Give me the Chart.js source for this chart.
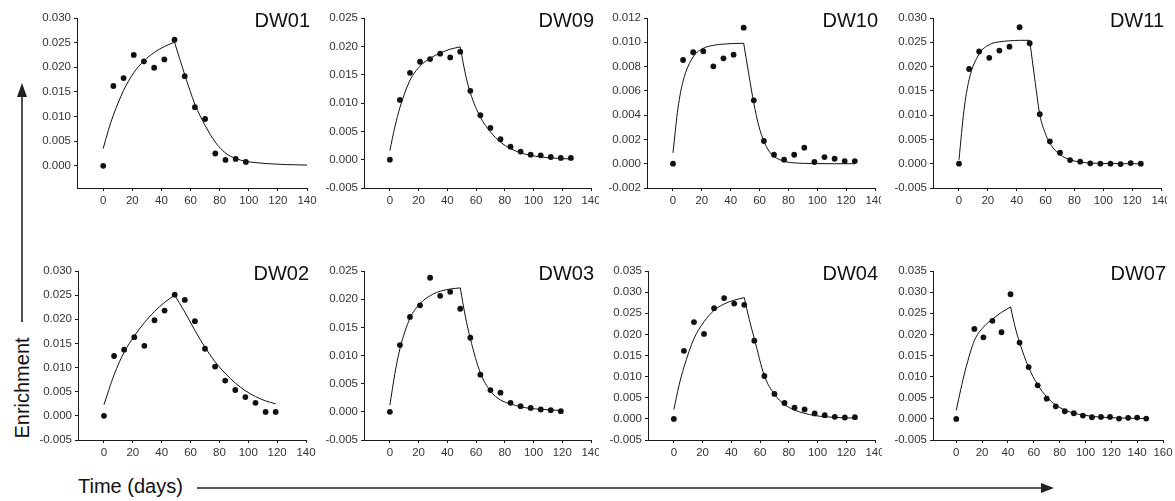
<!DOCTYPE html>
<html>
<head>
<meta charset="utf-8">
<script src="https://cdn.jsdelivr.net/npm/chart.js@4.4.1/dist/chart.umd.min.js"></script>
<style>
  body { margin: 0; background: #fff; }
  #page { position: relative; width: 1175px; height: 501px; overflow: hidden; background: #fff;
          font-family: "Liberation Sans", Arial, sans-serif; color: #111; }
  canvas { position: absolute; }
  .lbl { position: absolute; font-size: 20px; line-height: 20px; white-space: nowrap; }
  #ylab { left: 22px; top: 388px; transform: translate(-50%, -50%) rotate(-90deg); }
  #xlab { left: 78px; top: 476px; }
  svg { position: absolute; left: 0; top: 0; }
</style>
</head>
<body>
<div id="page">
  <svg width="1175" height="501">
    <line x1="22" y1="322" x2="22" y2="94" stroke="#222" stroke-width="1.6"/>
    <polygon points="22,83 17,97 27,97" fill="#222"/>
    <line x1="197" y1="488" x2="1043" y2="488" stroke="#222" stroke-width="1.6"/>
    <polygon points="1054,488 1041,483 1041,493" fill="#222"/>
  </svg>
  <div class="lbl" id="ylab">Enrichment</div>
  <div class="lbl" id="xlab">Time (days)</div>
</div>
<script>
// tick labels
const xTicks140 = [0, 20, 40, 60, 80, 100, 120, 140]
const xTicks160 = [0, 20, 40, 60, 80, 100, 120, 140, 160]
const yTicksDW01 = [0, 0.005, 0.010, 0.015, 0.020, 0.025, 0.030]
const yTicks030 = [-0.005, 0, 0.005, 0.010, 0.015, 0.020, 0.025, 0.030]
const yTicks025 = [-0.005, 0, 0.005, 0.010, 0.015, 0.020, 0.025]
const yTicks035 = [-0.005, 0, 0.005, 0.010, 0.015, 0.020, 0.025, 0.030, 0.035]
const yTicks012 = [-0.002, 0, 0.002, 0.004, 0.006, 0.008, 0.010, 0.012]

// sampling days
const days98 = [0, 7, 14, 21, 28, 35, 42, 49, 56, 63, 70, 77, 84, 91, 98]
const days119 = [0, 7, 14, 21, 28, 35, 42, 49, 56, 63, 70, 77, 84, 91, 98, 105, 112, 119]
const days126 = [0, 7, 14, 21, 28, 35, 42, 49, 56, 63, 70, 77, 84, 91, 98, 105, 112, 119, 126]
const daysDW07 = [0, 14, 21, 28, 35, 42, 49, 56, 63, 70, 77, 84, 91, 98, 105, 112, 119, 126, 133, 140, 147]
const riseDays = [0, 3.5, 7, 14, 21, 28, 35, 42, 49]
const riseDaysDW07 = [0, 3.5, 7, 14, 21, 28, 35, 42]

// DW01
const dw01Obs = [0.0000, 0.0162, 0.0178, 0.0225, 0.0212, 0.0199, 0.0216, 0.0256, 0.0182, 0.0119, 0.0095, 0.0025, 0.0012, 0.0014, 0.0008]
const dw01Rise = [0.0035, 0.0072, 0.0103, 0.0153, 0.0189, 0.0213, 0.0230, 0.0242, 0.0251]
const dw01FallDays = [49, 56, 63, 70, 77, 84, 91, 98, 105, 112, 119, 126, 133, 140]
const dw01Fall = [0.0251, 0.0185, 0.0125, 0.0082, 0.0048, 0.0026, 0.0015, 0.0009, 0.00065, 0.00045, 0.00035, 0.00025, 0.0002, 0.00015]

// DW09
const dw09Obs = [0.0000, 0.01055, 0.01533, 0.01728, 0.01775, 0.0187, 0.01804, 0.01905, 0.01215, 0.00784, 0.0056, 0.0036, 0.0023, 0.00142, 0.00088, 0.00077, 0.00047, 0.0003, 0.0003]
const dw09Rise = [0.0016, 0.0058, 0.0092, 0.0140, 0.0165, 0.0179, 0.0188, 0.0195, 0.0199]
const dw09FallDays = [49, 52.5, 56, 63, 70, 77, 84, 91, 98, 105, 112, 119, 126]
const dw09Fall = [0.0199, 0.0152, 0.0118, 0.0075, 0.0049, 0.0031, 0.00195, 0.0012, 0.00075, 0.00048, 0.0003, 0.0002, 0.00012]

// DW10
const dw10Obs = [0.0000, 0.00854, 0.00918, 0.00926, 0.00802, 0.00868, 0.00898, 0.0112, 0.00522, 0.00187, 0.00074, 0.00033, 0.00074, 0.00132, 0.00014, 0.00055, 0.00041, 0.00022, 0.00022]
const dw10Rise = [0.0009, 0.0046, 0.0068, 0.0088, 0.0095, 0.00975, 0.00985, 0.0099, 0.00992]
const dw10FallDays = [49, 52.5, 56, 59.5, 63, 66.5, 70, 77, 84, 91, 98, 112, 126]
const dw10Fall = [0.00992, 0.0074, 0.0050, 0.0031, 0.00185, 0.00105, 0.0006, 0.0002, 0.00007, 0.00003, 0.00001, 0, 0]

// DW11
const dw11Obs = [0.0000, 0.0195, 0.0231, 0.0218, 0.0233, 0.0241, 0.0281, 0.0248, 0.0102, 0.0046, 0.00226, 0.00075, 0.00041, 0.00007, 0, 0, -0.00007, 0.00014, 0]
const dw11Rise = [0.0008, 0.0111, 0.0173, 0.0226, 0.0245, 0.0251, 0.0253, 0.0254, 0.0254]
const dw11FallDays = [49, 52.5, 56, 59.5, 63, 66.5, 70, 77, 84, 91, 98, 112, 126]
const dw11Fall = [0.0254, 0.0175, 0.0101, 0.0065, 0.0042, 0.0028, 0.00185, 0.0008, 0.00035, 0.00015, 0.00006, 0.00001, 0]

// DW02
const dw02Obs = [0.0000, 0.0124, 0.0137, 0.0163, 0.0145, 0.0198, 0.0218, 0.0251, 0.0240, 0.0196, 0.0139, 0.0102, 0.0073, 0.00535, 0.0039, 0.0027, 0.00082, 0.00082]
const dw02Rise = [0.0023, 0.0055, 0.0085, 0.0132, 0.0165, 0.0193, 0.0216, 0.0235, 0.0250]
const dw02FallDays = [49, 56, 63, 70, 77, 84, 91, 98, 105, 112, 119]
const dw02Fall = [0.0250, 0.0215, 0.0177, 0.0142, 0.0112, 0.0088, 0.0068, 0.0052, 0.0040, 0.0031, 0.0025]

// DW03
const dw03Obs = [0.0000, 0.01185, 0.01685, 0.0189, 0.0238, 0.0206, 0.0213, 0.0183, 0.01315, 0.0066, 0.00387, 0.0034, 0.0016, 0.0010, 0.0007, 0.00042, 0.0003, 0.00012]
const dw03Rise = [0.0012, 0.0068, 0.0112, 0.0166, 0.0192, 0.0206, 0.0214, 0.0218, 0.0220]
const dw03FallDays = [49, 52.5, 56, 63, 70, 77, 84, 91, 98, 105, 112, 119]
const dw03Fall = [0.0220, 0.0170, 0.0130, 0.0069, 0.0037, 0.0021, 0.0014, 0.0009, 0.0006, 0.00045, 0.00035, 0.00025]

// DW04
const dw04Obs = [0.0000, 0.0161, 0.0229, 0.0201, 0.0262, 0.0286, 0.0273, 0.0270, 0.0185, 0.01015, 0.0059, 0.00376, 0.00264, 0.00224, 0.00128, 0.00088, 0.00048, 0.00032, 0.0004]
const dw04Rise = [0.0022, 0.0078, 0.0122, 0.0190, 0.0230, 0.0257, 0.0272, 0.0281, 0.0287]
const dw04FallDays = [49, 52.5, 56, 63, 70, 77, 84, 91, 98, 105, 112, 119, 126]
const dw04Fall = [0.0287, 0.0235, 0.0190, 0.0102, 0.0058, 0.0034, 0.0021, 0.0013, 0.0008, 0.0005, 0.00035, 0.00025, 0.0002]

// DW07
const dw07Obs = [0.0000, 0.0213, 0.0193, 0.0232, 0.0205, 0.0295, 0.01805, 0.01225, 0.00793, 0.00479, 0.00298, 0.0018, 0.00133, 0.00078, 0.00039, 0.00047, 0.00047, 0.00008, 0.00024, 0.00031, 0.00008]
const dw07Rise = [0.0020, 0.0070, 0.0115, 0.0185, 0.0217, 0.0236, 0.0252, 0.0265]
const dw07FallDays = [42, 45.5, 49, 56, 63, 70, 77, 84, 91, 98, 105, 112, 119, 126, 133, 140, 147]
const dw07Fall = [0.0265, 0.0218, 0.0181, 0.0122, 0.0081, 0.0052, 0.0033, 0.0021, 0.00135, 0.0009, 0.0006, 0.0004, 0.0003, 0.00022, 0.00017, 0.00012, 0.0001]

const panels = [
  {name: 'DW01', days: days98, obs: dw01Obs, riseDays: riseDays, rise: dw01Rise, fallDays: dw01FallDays, fall: dw01Fall, xTicks: xTicks140, yTicks: yTicksDW01, yMin: -0.0045, yMax: 0.030},
  {name: 'DW09', days: days126, obs: dw09Obs, riseDays: riseDays, rise: dw09Rise, fallDays: dw09FallDays, fall: dw09Fall, xTicks: xTicks140, yTicks: yTicks025, yMin: -0.005, yMax: 0.025},
  {name: 'DW10', days: days126, obs: dw10Obs, riseDays: riseDays, rise: dw10Rise, fallDays: dw10FallDays, fall: dw10Fall, xTicks: xTicks140, yTicks: yTicks012, yMin: -0.002, yMax: 0.012},
  {name: 'DW11', days: days126, obs: dw11Obs, riseDays: riseDays, rise: dw11Rise, fallDays: dw11FallDays, fall: dw11Fall, xTicks: xTicks140, yTicks: yTicks030, yMin: -0.005, yMax: 0.030},
  {name: 'DW02', days: days119, obs: dw02Obs, riseDays: riseDays, rise: dw02Rise, fallDays: dw02FallDays, fall: dw02Fall, xTicks: xTicks140, yTicks: yTicks030, yMin: -0.005, yMax: 0.030},
  {name: 'DW03', days: days119, obs: dw03Obs, riseDays: riseDays, rise: dw03Rise, fallDays: dw03FallDays, fall: dw03Fall, xTicks: xTicks140, yTicks: yTicks025, yMin: -0.005, yMax: 0.025},
  {name: 'DW04', days: days126, obs: dw04Obs, riseDays: riseDays, rise: dw04Rise, fallDays: dw04FallDays, fall: dw04Fall, xTicks: xTicks140, yTicks: yTicks035, yMin: -0.005, yMax: 0.035},
  {name: 'DW07', days: daysDW07, obs: dw07Obs, riseDays: riseDaysDW07, rise: dw07Rise, fallDays: dw07FallDays, fall: dw07Fall, xTicks: xTicks160, yTicks: yTicks035, yMin: -0.005, yMax: 0.035}
]

// page layout: plot box [left, right, top, bottom] and canvas box [left, right, top, bottom], per panel
const plotBoxes = [
  [77, 307, 18, 188], [364, 591, 18, 188], [647, 875, 18, 188], [933, 1161, 18, 188],
  [78, 306, 271, 440], [364, 591, 271, 440], [648, 875, 271, 440], [933, 1163, 271, 440]
]
const canvasBoxes = [
  [30, 320, 0, 215], [320, 599, 0, 215], [599, 881, 0, 215], [881, 1167, 0, 215],
  [30, 320, 245, 470], [320, 599, 245, 470], [599, 882, 245, 470], [882, 1175, 245, 470]
]

const FONT = '"Liberation Sans", Arial, sans-serif'
const INK = '#1a1a1a'

function toXY(xs, ys) {
  return xs.map((x, i) => ({x: x, y: ys[i]}))
}

function noPad(s) {
  s.paddingLeft = 0; s.paddingRight = 0; s.paddingTop = 0; s.paddingBottom = 0
}

const titlePlugin = {
  id: 'panelTitle',
  afterDraw(chart, args, opts) {
    const a = chart.chartArea
    const ctx = chart.ctx
    ctx.save()
    ctx.font = '20px ' + FONT
    ctx.fillStyle = '#111'
    ctx.textAlign = 'right'
    ctx.textBaseline = 'alphabetic'
    ctx.fillText(opts.text, a.right + 3, a.top + 9)
    ctx.restore()
  }
}

function makePanel(p, i) {
  const box = plotBoxes[i]
  const cb = canvasBoxes[i]
  const cv = document.createElement('canvas')
  cv.width = cb[1] - cb[0]
  cv.height = cb[3] - cb[2]
  cv.style.left = cb[0] + 'px'
  cv.style.top = cb[2] + 'px'
  document.getElementById('page').appendChild(cv)

  const axisGrid = {drawOnChartArea: false, drawTicks: true, tickLength: 3, color: INK, lineWidth: 1}
  const axisBorder = {display: true, color: INK, width: 1}
  const tickFont = {family: FONT, size: 11.5}

  new Chart(cv, {
    type: 'scatter',
    data: {
      datasets: [
        {data: toXY(p.riseDays, p.rise), showLine: true, borderColor: '#111', borderWidth: 1,
         pointRadius: 0, cubicInterpolationMode: 'monotone', fill: false},
        {data: toXY(p.fallDays, p.fall), showLine: true, borderColor: '#111', borderWidth: 1,
         pointRadius: 0, cubicInterpolationMode: 'monotone', fill: false},
        {data: toXY(p.days, p.obs), showLine: false, pointRadius: 2.9,
         backgroundColor: '#111', borderWidth: 0}
      ]
    },
    options: {
      responsive: false,
      animation: false,
      devicePixelRatio: 1,
      layout: {padding: {left: 0, bottom: 0, top: box[2] - cb[2], right: cb[1] - box[1]}},
      plugins: {legend: {display: false}, tooltip: {enabled: false}, panelTitle: {text: p.name}},
      scales: {
        x: {
          type: 'linear', min: -18, max: p.xTicks[p.xTicks.length - 1],
          afterBuildTicks: s => { s.ticks = p.xTicks.map(v => ({value: v})) },
          afterFit: s => { s.height = cb[3] - box[3]; noPad(s) },
          grid: axisGrid, border: axisBorder,
          ticks: {color: '#333', font: tickFont, padding: 3, maxRotation: 0, autoSkip: false,
                  callback: v => String(v)}
        },
        y: {
          type: 'linear', min: p.yMin, max: p.yMax,
          afterBuildTicks: s => { s.ticks = p.yTicks.map(v => ({value: v})) },
          afterFit: s => { s.width = box[0] - cb[0]; noPad(s) },
          grid: axisGrid, border: axisBorder,
          ticks: {color: '#333', font: tickFont, padding: 3, autoSkip: false,
                  callback: v => v.toFixed(3)}
        }
      }
    },
    plugins: [titlePlugin]
  })
}

for (let i = 0; i < panels.length; i++) {
  makePanel(panels[i], i)
}
</script>
</body>
</html>
